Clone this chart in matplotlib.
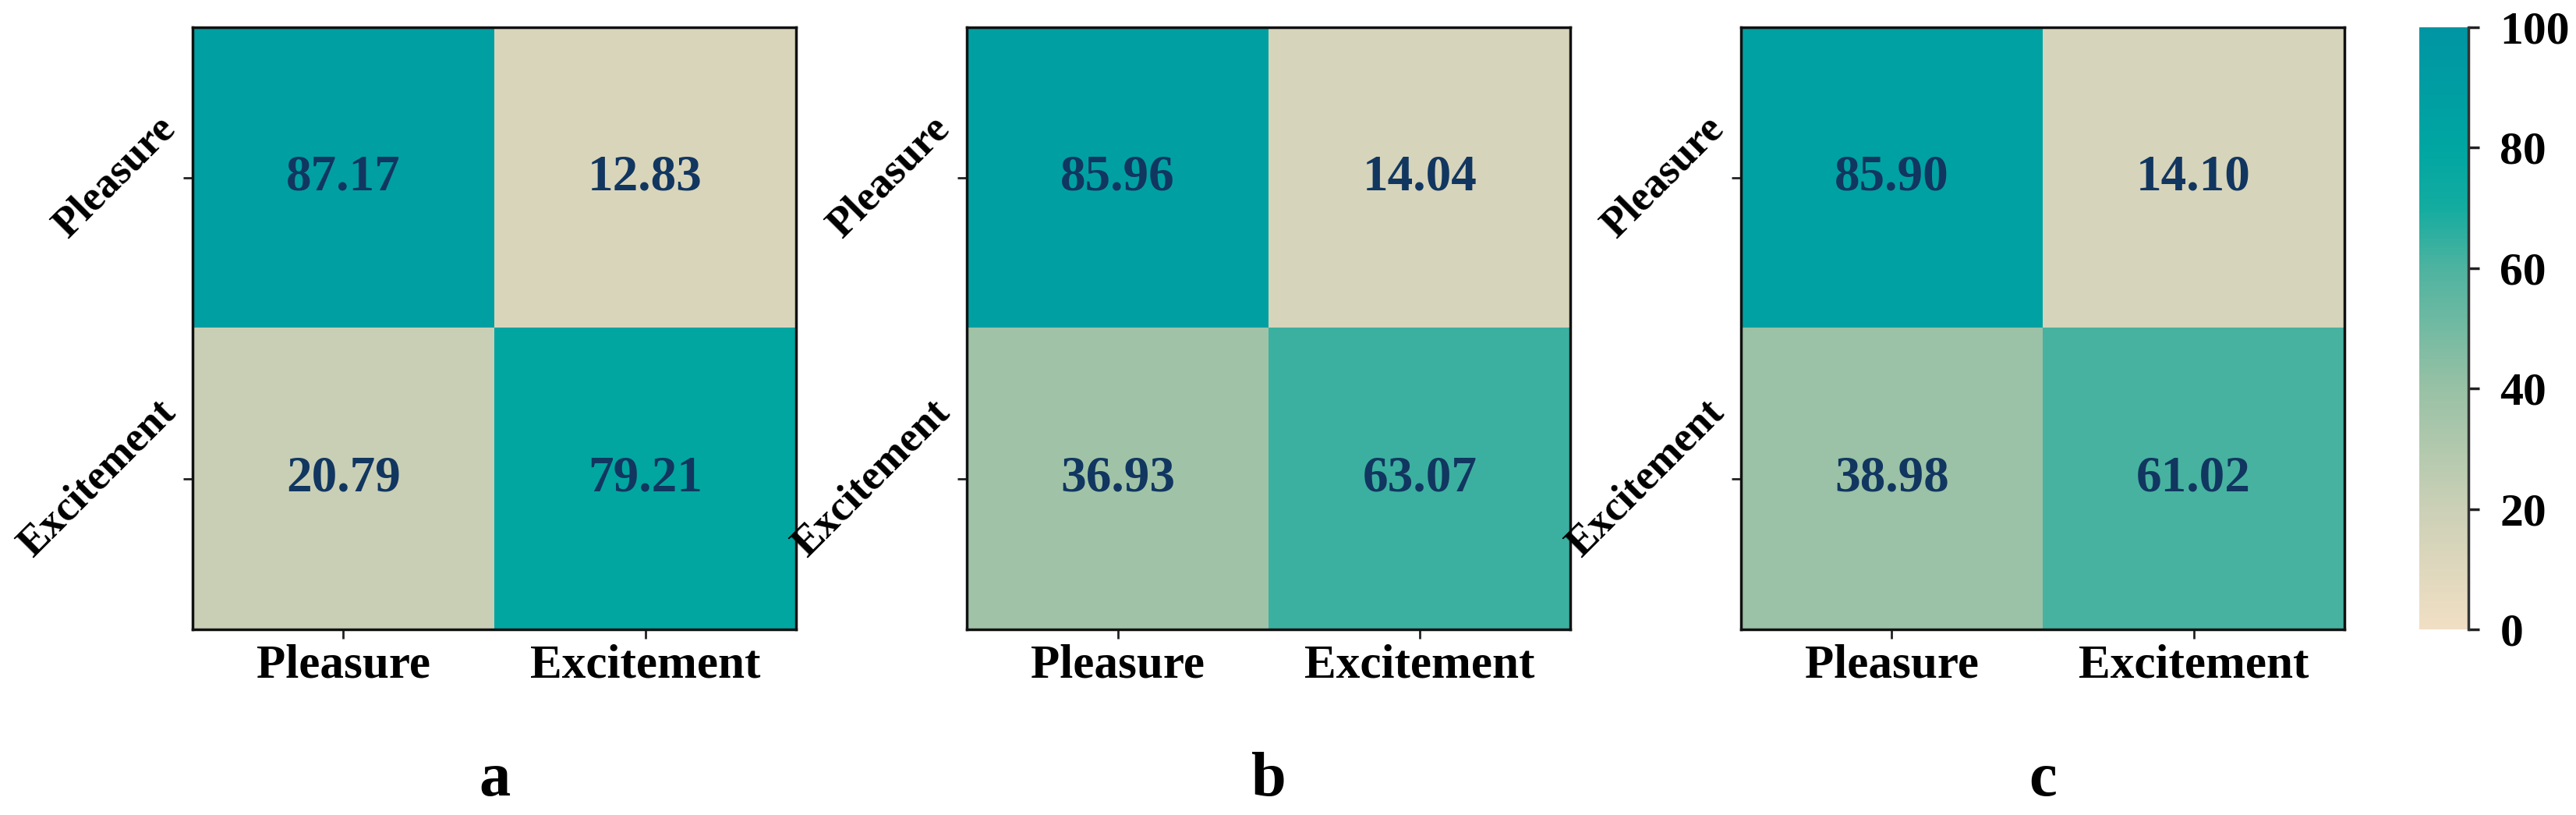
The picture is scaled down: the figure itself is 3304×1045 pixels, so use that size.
import numpy as np
import matplotlib
matplotlib.use("Agg")
import matplotlib.pyplot as plt
from matplotlib.colors import LinearSegmentedColormap

# --- data ---
classes = ["Pleasure", "Excitement"]
panel_tags = ["a", "b", "c"]
cm_a = [[87.17, 12.83], [20.79, 79.21]]
cm_b = [[85.96, 14.04], [36.93, 63.07]]
cm_c = [[85.90, 14.10], [38.98, 61.02]]
cbar_ticks = [0, 20, 40, 60, 80, 100]

# beige -> sage -> teal
cmap = LinearSegmentedColormap.from_list("beige_teal", [
    (0.00, "#f1dfc4"),
    (0.20, "#cbd0b6"),
    (0.40, "#98c1a5"),
    (0.60, "#4eb3a0"),
    (0.70, "#14aca0"),
    (0.80, "#00a6a2"),
    (1.00, "#0095a3"),
])

plt.rcParams['font.family'] = ['Liberation Serif', 'DejaVu Serif']
plt.rcParams['font.weight'] = 'bold'

fig = plt.figure(figsize=(33.05, 10.45), dpi=100)

lefts = [0.0747, 0.3752, 0.6756]
bottom, height, width = 0.2278, 0.7388, 0.2343

for left, mat, tag in zip(lefts, [cm_a, cm_b, cm_c], panel_tags):
    ax = fig.add_axes([left, bottom, width, height])
    data = np.array(mat)
    im = ax.imshow(data, cmap=cmap, vmin=0, vmax=100, aspect='auto')
    for i in range(2):
        for j in range(2):
            ax.text(j, i, f"{data[i, j]:.2f}", ha='center', va='center',
                    fontsize=47, fontweight='bold', color='#113660')
    ax.set_xticks(range(2))
    ax.set_yticks(range(2))
    ax.set_xticklabels(classes, fontsize=44, fontweight='bold')
    ax.set_yticklabels(classes, fontsize=39, fontweight='bold', rotation=45,
                       va='center')
    ax.tick_params(axis='both', length=8.5, width=2, color='#222222')
    ax.tick_params(axis='x', pad=5)
    ax.tick_params(axis='y', pad=0)
    for s in ax.spines.values():
        s.set_linewidth(2.5)
        s.set_color('#111111')
    ax.text(0.5, -0.276, tag, transform=ax.transAxes, ha='center',
            va='baseline', fontsize=58, fontweight='bold')

cax = fig.add_axes([0.9389, bottom, 0.0191, height])
cb = fig.colorbar(im, cax=cax, ticks=cbar_ticks)
cb.outline.set_visible(False)
cax.plot([1, 1], [0, 1], transform=cax.transAxes, color='#333333', lw=2.5,
         clip_on=False)
cax.tick_params(length=10, width=2.5, pad=19, labelsize=43, color='#222222')
for lab in cax.get_yticklabels():
    lab.set_fontweight('bold')

fig.savefig("out.png", dpi=100)
